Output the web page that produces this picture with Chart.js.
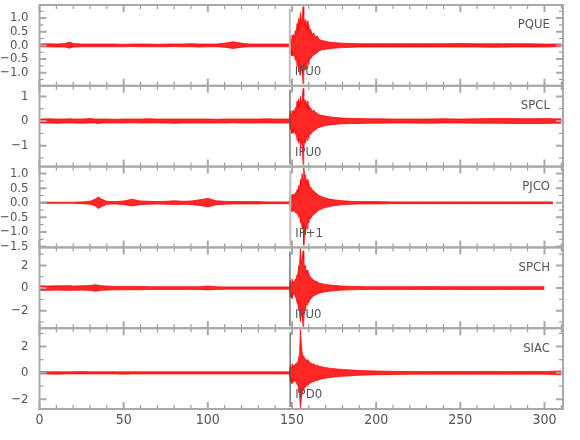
<!DOCTYPE html>
<html>
<head>
<meta charset="utf-8">
<script src="https://cdn.jsdelivr.net/npm/chart.js@4.4.1/dist/chart.umd.min.js"></script>
<style>
  html, body { margin: 0; padding: 0; background: #fff; }
  #wrap { width: 580px; height: 440px; }
</style>
</head>
<body>
<div id="wrap"><canvas id="seis" width="580" height="440"></canvas></div>
<script>
const stations = ["PQUE", "SPCL", "PJCO", "SPCH", "SIAC"];
const picks = ["IPU0", "IPU0", "IP+1", "IPU0", "IPD0"];
const pickTimes = [148.7, 148.8, 149.0, 148.8, 148.9];

const times = [0, 5, 10, 15, 18, 20, 25, 30, 33, 35, 37, 40, 45, 50, 55, 60, 65, 70, 75, 80, 85, 90, 95, 100, 105, 110, 115, 120, 125, 130, 135, 140, 145,
  148, 148.5, 149, 149.5, 150, 150.5, 151, 151.5, 152, 152.5, 153, 153.5, 154, 154.5, 155, 155.5, 156, 156.6, 157, 157.5, 158, 158.5, 159, 159.5, 160, 160.5,
  161, 162, 163, 164, 165, 166, 168, 170, 172, 175, 178, 180, 185, 190, 195, 200,
  210, 220, 230, 240, 250, 260, 270, 280, 290, 300, 305, 310];

const pqueUp = [0.05, 0.06, 0.05, 0.07, 0.12, 0.07, 0.05, 0.05, 0.05, 0.05, 0.05, 0.05, 0.05, 0.04, 0.05, 0.05, 0.05, 0.04, 0.05, 0.05, 0.05, 0.06, 0.05, 0.05, 0.05, 0.08, 0.13, 0.08, 0.05, 0.05, 0.05, 0.05, 0.05,
  0.05, 0.05, 0.35, 0.22, 0.38, 0.26, 0.4, 0.3, 0.55, 0.4, 0.8, 0.55, 1.0, 0.75, 1.2, 0.8, 1.0, 1.42, 1.1, 0.75, 0.95, 0.65, 0.9, 0.55, 0.75, 0.45,
  0.6, 0.4, 0.45, 0.3, 0.35, 0.22, 0.18, 0.15, 0.12, 0.1, 0.09, 0.08, 0.07, 0.06, 0.06, 0.06,
  0.06, 0.06, 0.06, 0.06, 0.07, 0.06, 0.06, 0.06, 0.06, 0.05, 0.05, 0.05];
const pqueLo = [-0.05, -0.05, -0.06, -0.06, -0.1, -0.06, -0.05, -0.05, -0.05, -0.05, -0.05, -0.05, -0.05, -0.05, -0.04, -0.05, -0.05, -0.05, -0.05, -0.04, -0.05, -0.05, -0.06, -0.05, -0.05, -0.07, -0.11, -0.07, -0.05, -0.05, -0.05, -0.05, -0.05,
  -0.05, -0.05, -0.32, -0.22, -0.38, -0.28, -0.4, -0.3, -0.55, -0.4, -0.75, -0.55, -0.97, -0.7, -1.1, -0.8, -1.0, -1.4, -1.05, -0.7, -0.9, -0.6, -0.85, -0.5, -0.7, -0.45,
  -0.5, -0.4, -0.35, -0.3, -0.28, -0.2, -0.16, -0.14, -0.12, -0.1, -0.09, -0.08, -0.07, -0.06, -0.06, -0.06,
  -0.06, -0.06, -0.06, -0.06, -0.06, -0.06, -0.07, -0.06, -0.06, -0.06, -0.05, -0.05];

const spclUp = [0.08, 0.09, 0.08, 0.08, 0.09, 0.08, 0.08, 0.1, 0.08, 0.08, 0.08, 0.08, 0.07, 0.08, 0.08, 0.08, 0.09, 0.08, 0.08, 0.08, 0.08, 0.08, 0.08, 0.08, 0.07, 0.08, 0.08, 0.08, 0.08, 0.08, 0.09, 0.08, 0.08,
  0.08, 0.08, 0.4, 0.3, 0.42, 0.3, 0.45, 0.3, 0.55, 0.4, 0.8, 0.55, 0.9, 0.65, 1.0, 0.7, 0.85, 1.32, 1.0, 0.7, 0.85, 0.6, 0.8, 0.5, 0.65, 0.45,
  0.55, 0.4, 0.45, 0.35, 0.32, 0.26, 0.22, 0.2, 0.17, 0.15, 0.13, 0.12, 0.1, 0.1, 0.09, 0.09,
  0.08, 0.08, 0.08, 0.09, 0.08, 0.09, 0.1, 0.1, 0.09, 0.1, 0.09, 0.09];
const spclLo = [-0.08, -0.08, -0.09, -0.08, -0.08, -0.08, -0.09, -0.08, -0.08, -0.1, -0.08, -0.08, -0.08, -0.08, -0.07, -0.08, -0.08, -0.08, -0.08, -0.09, -0.08, -0.08, -0.08, -0.08, -0.08, -0.08, -0.07, -0.08, -0.08, -0.08, -0.08, -0.08, -0.08,
  -0.08, -0.08, -0.35, -0.3, -0.5, -0.3, -0.5, -0.35, -0.55, -0.4, -0.8, -0.55, -0.9, -0.7, -1.05, -0.75, -1.0, -1.76, -1.2, -0.75, -0.9, -0.6, -0.8, -0.5, -0.7, -0.45,
  -0.55, -0.45, -0.4, -0.35, -0.3, -0.26, -0.22, -0.18, -0.16, -0.14, -0.12, -0.11, -0.1, -0.1, -0.09, -0.09,
  -0.08, -0.08, -0.09, -0.08, -0.08, -0.09, -0.09, -0.1, -0.1, -0.1, -0.09, -0.09];

const pjcoUp = [0.02, 0.02, 0.02, 0.02, 0.02, 0.02, 0.03, 0.05, 0.12, 0.2, 0.12, 0.05, 0.04, 0.06, 0.12, 0.06, 0.05, 0.04, 0.05, 0.07, 0.05, 0.06, 0.1, 0.15, 0.07, 0.05, 0.04, 0.04, 0.04, 0.04, 0.03, 0.03, 0.03,
  0.03, 0.03, 0.3, 0.2, 0.3, 0.22, 0.3, 0.22, 0.35, 0.28, 0.45, 0.35, 0.6, 0.45, 0.8, 0.6, 1.0, 0.8, 1.2, 0.9, 0.95, 0.7, 0.8, 0.55, 0.7, 0.5,
  0.55, 0.45, 0.4, 0.35, 0.3, 0.25, 0.2, 0.16, 0.13, 0.1, 0.08, 0.07, 0.05, 0.04, 0.04, 0.04,
  0.03, 0.03, 0.03, 0.03, 0.03, 0.03, 0.03, 0.03, 0.03, 0.03, 0.03, null];
const pjcoLo = [-0.02, -0.02, -0.02, -0.02, -0.02, -0.02, -0.03, -0.05, -0.1, -0.2, -0.13, -0.05, -0.04, -0.06, -0.11, -0.06, -0.05, -0.04, -0.05, -0.06, -0.05, -0.06, -0.09, -0.14, -0.07, -0.05, -0.04, -0.04, -0.04, -0.04, -0.03, -0.03, -0.03,
  -0.03, -0.03, -0.3, -0.2, -0.3, -0.22, -0.3, -0.22, -0.35, -0.28, -0.4, -0.3, -0.5, -0.4, -0.7, -0.55, -0.9, -0.7, -1.45, -1.0, -1.1, -0.8, -0.9, -0.6, -0.7, -0.5,
  -0.55, -0.45, -0.4, -0.35, -0.3, -0.25, -0.2, -0.16, -0.13, -0.1, -0.08, -0.07, -0.05, -0.04, -0.04, -0.04,
  -0.03, -0.03, -0.03, -0.03, -0.03, -0.03, -0.03, -0.03, -0.03, -0.03, -0.03, null];

const spchUp = [0.2, 0.18, 0.2, 0.2, 0.22, 0.18, 0.2, 0.22, 0.3, 0.25, 0.2, 0.18, 0.15, 0.15, 0.15, 0.15, 0.12, 0.12, 0.12, 0.12, 0.12, 0.12, 0.12, 0.18, 0.12, 0.1, 0.1, 0.1, 0.1, 0.1, 0.1, 0.1, 0.1,
  0.1, 0.1, 0.7, 0.45, 0.8, 0.5, 0.6, 0.5, 0.8, 0.8, 1.2, 1.3, 2.0, 2.0, 3.5, 2.2, 2.5, 3.3, 2.5, 1.8, 2.0, 1.4, 1.6, 1.2, 1.3, 1.0,
  1.0, 0.8, 0.7, 0.6, 0.55, 0.45, 0.38, 0.32, 0.28, 0.24, 0.2, 0.18, 0.15, 0.13, 0.12, 0.12,
  0.12, 0.12, 0.13, 0.12, 0.12, 0.12, 0.12, 0.12, 0.12, 0.12, null, null];
const spchLo = [-0.2, -0.2, -0.18, -0.2, -0.2, -0.2, -0.18, -0.2, -0.28, -0.24, -0.2, -0.18, -0.15, -0.15, -0.15, -0.15, -0.12, -0.12, -0.12, -0.12, -0.12, -0.12, -0.12, -0.16, -0.12, -0.1, -0.1, -0.1, -0.1, -0.1, -0.1, -0.1, -0.1,
  -0.1, -0.1, -0.8, -0.45, -0.9, -0.55, -0.6, -0.5, -0.8, -0.9, -1.3, -1.4, -2.0, -2.0, -3.0, -2.2, -2.6, -3.4, -2.8, -2.0, -2.0, -1.4, -1.5, -1.2, -1.3, -1.0,
  -1.0, -0.8, -0.7, -0.6, -0.55, -0.45, -0.38, -0.32, -0.28, -0.24, -0.2, -0.18, -0.15, -0.13, -0.12, -0.12,
  -0.12, -0.12, -0.12, -0.12, -0.12, -0.13, -0.12, -0.12, -0.12, -0.12, null, null];

const siacUp = [0.1, 0.08, 0.08, 0.08, 0.08, 0.08, 0.1, 0.08, 0.08, 0.08, 0.08, 0.08, 0.08, 0.08, 0.08, 0.08, 0.08, 0.08, 0.08, 0.08, 0.08, 0.08, 0.08, 0.08, 0.08, 0.08, 0.08, 0.08, 0.08, 0.08, 0.08, 0.08, 0.08,
  0.08, 0.08, 0.6, 0.4, 0.7, 0.45, 0.6, 0.45, 0.7, 0.55, 0.8, 0.75, 1.2, 1.4, 3.3, 2.2, 1.6, 1.2, 1.3, 1.0, 1.1, 0.85, 1.0, 0.75, 0.9, 0.7,
  0.8, 0.65, 0.7, 0.55, 0.6, 0.5, 0.45, 0.4, 0.36, 0.32, 0.28, 0.26, 0.22, 0.18, 0.16, 0.14,
  0.12, 0.1, 0.1, 0.1, 0.1, 0.1, 0.1, 0.1, 0.1, 0.1, 0.12, 0.15];
const siacLo = [-0.08, -0.08, -0.1, -0.08, -0.08, -0.08, -0.08, -0.08, -0.08, -0.08, -0.08, -0.08, -0.08, -0.1, -0.08, -0.08, -0.08, -0.08, -0.08, -0.08, -0.08, -0.08, -0.08, -0.08, -0.08, -0.08, -0.08, -0.08, -0.08, -0.08, -0.08, -0.08, -0.08,
  -0.08, -0.08, -0.7, -0.45, -0.8, -0.5, -0.7, -0.5, -0.7, -0.55, -0.9, -0.85, -1.5, -1.5, -2.65, -2.0, -1.6, -1.2, -1.3, -1.0, -1.1, -0.85, -1.0, -0.75, -0.9, -0.7,
  -0.8, -0.65, -0.7, -0.55, -0.6, -0.5, -0.45, -0.4, -0.36, -0.32, -0.28, -0.26, -0.22, -0.18, -0.16, -0.14,
  -0.12, -0.1, -0.1, -0.1, -0.1, -0.1, -0.1, -0.1, -0.1, -0.1, -0.12, -0.15];

const upper = [pqueUp, spclUp, pjcoUp, spchUp, siacUp];
const lower = [pqueLo, spclLo, pjcoLo, spchLo, siacLo];

// axis ranges and ticks per panel
const yMin = [-1.48, -1.85, -1.53, -3.55, -2.75];
const yMax = [1.48, 1.43, 1.24, 3.6, 3.4];
const yTicks = [[1, 0.5, 0, -0.5, -1], [1, 0, -1], [1, 0.5, 0, -0.5, -1, -1.5], [2, 0, -2], [2, 0, -2]];
const yTickLabels = [["1.0", "0.5", "0.0", "−0.5", "−1.0"], ["1", "0", "−1"], ["1.0", "0.5", "0.0", "−0.5", "−1.0", "−1.5"], ["2", "0", "−2"], ["2", "0", "−2"]];
const yMinorStep = [0.25, 0.5, 0.25, 1, 1];
const xTicks = [0, 50, 100, 150, 200, 250, 300];
const xMax = 311;

[...upper, ...lower].forEach(a => {
    if (a.length !== times.length) throw new Error("length mismatch " + a.length);
});

const FONT = '"Liberation Sans Narrow", "DejaVu Sans Condensed", sans-serif';
const FRAME = "#a9a9a9";
const TICK = "#8c8c8c";
const TEXT = "#555";
const pickStyle = [["#bdbdbd", 2], ["#555", 1.2], ["#bdbdbd", 2], ["#555", 1.2], ["#555", 1.2]];

let datasets = [];
stations.forEach((name, i) => {
    datasets.push({
        label: name,
        data: times.map((t, k) => ({ x: t, y: upper[i][k] })),
        yAxisID: "y" + i,
        borderColor: "rgba(255,0,0,0.95)",
        backgroundColor: "rgba(255,0,0,0.85)",
        borderWidth: 0.8,
        pointRadius: 0,
        fill: "+1"
    });
    datasets.push({
        label: name + " low",
        data: times.map((t, k) => ({ x: t, y: lower[i][k] })),
        yAxisID: "y" + i,
        borderColor: "rgba(255,0,0,0.95)",
        borderWidth: 0.8,
        pointRadius: 0,
        fill: false
    });
});

let scales = {
    x: {
        type: "linear", position: "bottom", min: 0, max: xMax,
        grid: { display: false }, border: { display: false },
        afterBuildTicks: s => { s.ticks = xTicks.map(v => ({ value: v })); },
        afterFit: s => { s.height = 31; s.paddingLeft = 0; s.paddingRight = 0; },
        ticks: { color: TEXT, font: { family: FONT, size: 14 }, padding: -5, maxRotation: 0, autoSkip: false }
    }
};
// stacked axes are laid out bottom-up, so add the last station first
for (let i = stations.length - 1; i >= 0; i--) {
    scales["y" + i] = {
        type: "linear", position: "left", stack: "traces", stackWeight: 1,
        min: yMin[i], max: yMax[i],
        grid: { display: false }, border: { display: false },
        afterBuildTicks: s => { s.ticks = yTicks[i].map(v => ({ value: v })); },
        afterFit: s => { s.width = 39.5; s.paddingTop = 0; s.paddingBottom = 0; },
        ticks: { color: TEXT, font: { family: FONT, size: 13 }, padding: 3, autoSkip: false,
                 callback: (v, k) => yTickLabels[i][k] }
    };
}

// frames, inward ticks, pick lines and labels
const decor = {
    id: "decor",
    afterDatasetsDraw(chart) {
        const { ctx, chartArea: a, scales: sc } = chart;
        const xs = sc.x;
        ctx.save();
        stations.forEach((name, i) => {
            const ys = sc["y" + i];
            const top = ys.top, bot = ys.bottom;

            // pick marker
            const px = xs.getPixelForValue(pickTimes[i]);
            ctx.strokeStyle = pickStyle[i][0];
            ctx.lineWidth = pickStyle[i][1];
            ctx.beginPath();
            ctx.moveTo(px, top + 4);
            ctx.lineTo(px, bot - 2);
            ctx.stroke();

            // x ticks on top and bottom of each panel
            for (let v = 0; v <= xMax; v += 10) {
                const x = xs.getPixelForValue(v);
                const major = v % 50 === 0;
                const len = major ? 7 : 4;
                ctx.strokeStyle = major ? FRAME : TICK;
                ctx.lineWidth = major ? 2 : 1;
                ctx.beginPath();
                ctx.moveTo(x, top); ctx.lineTo(x, top + len);
                ctx.moveTo(x, bot); ctx.lineTo(x, bot - len);
                ctx.stroke();
            }

            // y ticks on both sides
            const step = yMinorStep[i];
            for (let v = Math.ceil(yMin[i] / step) * step; v <= yMax[i] + 1e-9; v += step) {
                const y = ys.getPixelForValue(v);
                const major = yTicks[i].some(t => Math.abs(t - v) < 1e-6);
                const len = major ? 7 : 4;
                ctx.strokeStyle = major ? FRAME : TICK;
                ctx.lineWidth = major ? 2 : 1;
                ctx.beginPath();
                ctx.moveTo(a.left, y); ctx.lineTo(a.left + len, y);
                ctx.moveTo(a.right, y); ctx.lineTo(a.right - len, y);
                ctx.stroke();
            }

            // panel frame
            ctx.strokeStyle = FRAME;
            ctx.lineWidth = 2;
            ctx.strokeRect(a.left, top, a.right - a.left, bot - top);

            // station name and pick label
            ctx.fillStyle = TEXT;
            ctx.font = "13px " + FONT;
            ctx.textBaseline = "middle";
            ctx.textAlign = "right";
            ctx.fillText(name, a.right - 13, top + 20);
            ctx.textAlign = "left";
            ctx.fillText(picks[i], px + 5, bot - 14);
        });
        ctx.restore();
    }
};

new Chart(document.getElementById("seis"), {
    type: "line",
    data: { datasets: datasets },
    options: {
        responsive: false,
        animation: false,
        layout: { padding: { top: 5, right: 17, left: 0, bottom: 0 } },
        elements: { line: { tension: 0 } },
        plugins: { legend: { display: false }, tooltip: { enabled: false } },
        scales: scales
    },
    plugins: [decor]
});
</script>
</body>
</html>
